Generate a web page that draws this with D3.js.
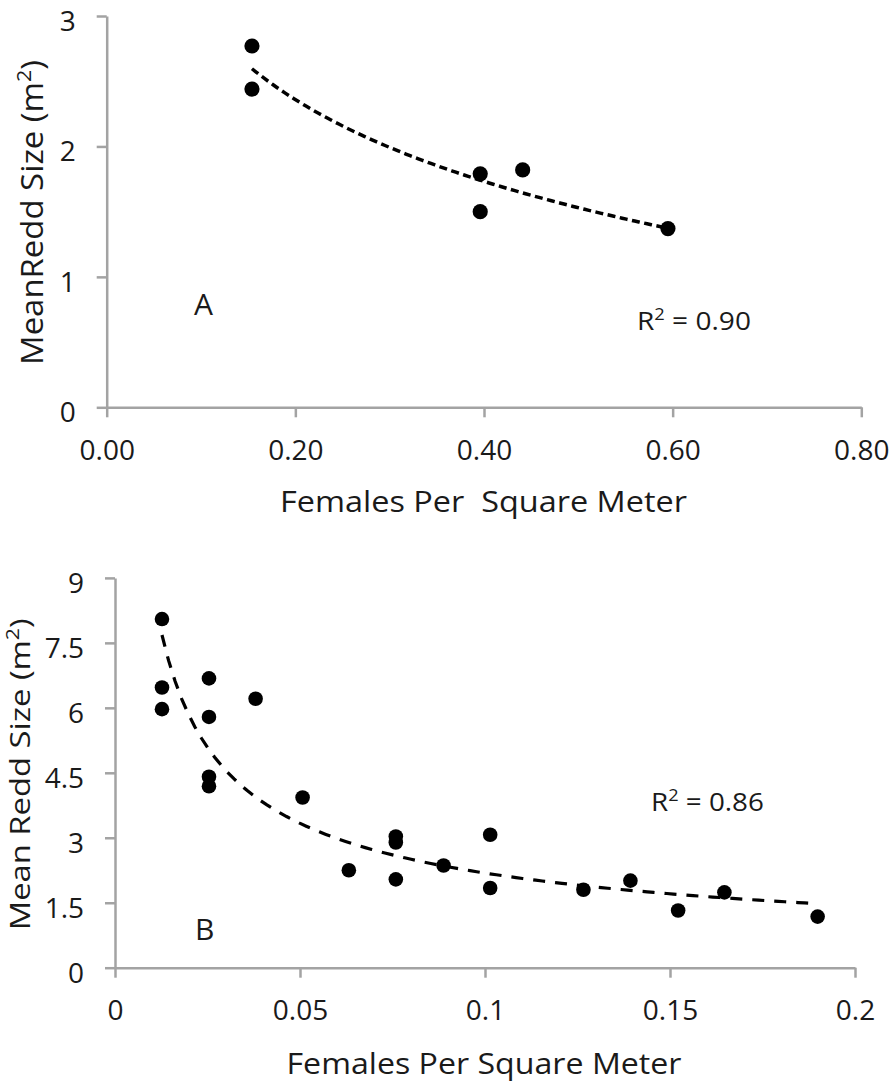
<!DOCTYPE html>
<html>
<head>
<meta charset="utf-8">
<script src="https://cdn.jsdelivr.net/npm/d3@7"></script>
<style>
  html, body { margin: 0; padding: 0; background: #fff; }
  svg { display: block; }
  text { font-family: "Open Sans", "Noto Sans", sans-serif; fill: #1a1a1a; }
</style>
</head>
<body>
<svg id="chart" width="892" height="1082"></svg>
<script>
// ---- Panel A data ----
const densityA = [0.154, 0.154, 0.396, 0.396, 0.441, 0.595];
const reddSizeA = [2.77, 2.44, 1.79, 1.50, 1.82, 1.37];
const xTicksA = [0, 0.2, 0.4, 0.6, 0.8];
const yTicksA = [0, 1, 2, 3];

// ---- Panel B data ----
const densityB = [0.0127, 0.0127, 0.0127, 0.0254, 0.0254, 0.0254, 0.0254, 0.038, 0.0507, 0.0632,
                  0.0759, 0.0759, 0.0759, 0.0888, 0.1014, 0.1014, 0.1266, 0.1393, 0.1522, 0.1647, 0.1899];
const reddSizeB = [8.05, 6.47, 5.97, 6.68, 5.79, 4.41, 4.19, 6.21, 3.93, 2.25,
                   3.03, 2.89, 2.04, 2.36, 3.07, 1.84, 1.80, 2.01, 1.32, 1.74, 1.18];
const xTicksB = [0, 0.05, 0.1, 0.15, 0.2];
const yTicksB = [0, 1.5, 3, 4.5, 6, 7.5, 9];

const svg = d3.select("#chart");
const axisColor = "#a3a3a3";

// least squares helpers
function linFit(xs, ys) {
  const n = xs.length;
  const mx = d3.mean(xs), my = d3.mean(ys);
  let sxy = 0, sxx = 0;
  for (let i = 0; i < n; i++) { sxy += (xs[i]-mx)*(ys[i]-my); sxx += (xs[i]-mx)**2; }
  const b = sxy / sxx;
  return { a: my - b*mx, b };
}
function logFit(xs, ys) { // y = a + b ln x
  const f = linFit(xs.map(Math.log), ys);
  return x => f.a + f.b * Math.log(x);
}
function powFit(xs, ys) { // y = A x^b
  const f = linFit(xs.map(Math.log), ys.map(Math.log));
  return x => Math.exp(f.a) * Math.pow(x, f.b);
}

function panel(cfg) {
  const g = svg.append("g");
  const x = d3.scaleLinear().domain(cfg.xDomain).range(cfg.xRange);
  const y = d3.scaleLinear().domain(cfg.yDomain).range(cfg.yRange);

  const yAxis = g.append("g")
    .attr("transform", `translate(${cfg.xRange[0]},0)`)
    .call(d3.axisLeft(y).tickValues(cfg.yTicks).tickFormat(cfg.yFmt).tickSize(10).tickSizeOuter(0).tickPadding(21));
  const xAxis = g.append("g")
    .attr("transform", `translate(0,${cfg.yRange[0]})`)
    .call(d3.axisBottom(x).tickValues(cfg.xTicks).tickFormat(cfg.xFmt).tickSize(10).tickSizeOuter(0));
  [yAxis, xAxis].forEach(ax => {
    ax.select(".domain").attr("stroke", axisColor).attr("stroke-width", 2.5);
    ax.selectAll(".tick line").attr("stroke", axisColor).attr("stroke-width", 2.5);
    ax.selectAll("text").attr("font-size", 28).attr("fill", "#1a1a1a")
      .style("font-family", '"Open Sans", sans-serif');
  });
  yAxis.selectAll("text").attr("dy", "0.52em");
  xAxis.selectAll("text").attr("dy", 0).attr("y", cfg.xLabelBase);

  // trend line
  const fit = cfg.fit(cfg.xs, cfg.ys);
  const x0 = d3.min(cfg.xs), x1 = d3.max(cfg.xs);
  const samples = d3.range(0, 101).map(i => x0 + (x1 - x0) * i / 100);
  g.append("path")
    .attr("d", d3.line().x(d => x(d)).y(d => y(fit(d)))(samples))
    .attr("fill", "none").attr("stroke", "#000")
    .attr("stroke-width", cfg.dashWidth)
    .attr("stroke-dasharray", cfg.dash);

  // points
  g.selectAll("circle.pt").data(cfg.xs.map((v, i) => [v, cfg.ys[i]]))
    .join("circle").attr("class", "pt")
    .attr("cx", d => x(d[0])).attr("cy", d => y(d[1]))
    .attr("r", cfg.r).attr("fill", "#000");

  // x title
  g.append("text")
    .attr("x", cfg.xTitle.x).attr("y", cfg.xTitle.y)
    .attr("font-size", 30)
    .attr("textLength", cfg.xTitle.len).attr("lengthAdjust", "spacingAndGlyphs")
    .style("white-space", "pre")
    .text(cfg.xTitle.text);

  // y title
  const fs = cfg.yTitle.fs;
  const yt = g.append("text")
    .attr("transform", `translate(${cfg.yTitle.x},${cfg.yTitle.y}) rotate(-90)`)
    .attr("text-anchor", "middle")
    .attr("font-size", fs);
  yt.append("tspan").text(cfg.yTitle.text + " (m");
  yt.append("tspan").attr("font-size", fs * 0.65).attr("dy", -fs * 0.39).text("2");
  yt.append("tspan").attr("dy", fs * 0.39).text(")");
  const len = yt.node().getComputedTextLength();
  yt.attr("transform", `translate(${cfg.yTitle.x},${cfg.yTitle.y}) rotate(-90) scale(${cfg.yTitle.len/len},1)`);

  // panel letter
  g.append("text").attr("x", cfg.letter.x).attr("y", cfg.letter.y)
    .attr("font-size", 30).text(cfg.letter.text);

  // R^2
  const rt = g.append("text").attr("x", cfg.r2.x).attr("y", cfg.r2.y).attr("font-size", 26);
  rt.append("tspan").text("R");
  rt.append("tspan").attr("font-size", 17).attr("dy", -10).text("2");
  rt.append("tspan").attr("dy", 10).text(" = " + cfg.r2.text);
  const rl = rt.node().getComputedTextLength();
  rt.attr("transform", `translate(${cfg.r2.x},0) scale(${cfg.r2.len/rl},1) translate(${-cfg.r2.x},0)`);
}

panel({
  xs: densityA, ys: reddSizeA,
  xDomain: [0, 0.8], xRange: [106.7, 861.3],
  yDomain: [0, 3], yRange: [407.3, 16],
  xTicks: xTicksA, yTicks: yTicksA,
  xFmt: d3.format(".2f"), yFmt: d => String(d),
  xLabelBase: 53,
  fit: logFit, dash: "8,4.5", dashWidth: 3.5, r: 7.6,
  xTitle: { text: "Females Per  Square Meter", x: 280, y: 511.5, len: 407 },
  yTitle: { text: "MeanRedd Size", x: 43, y: 212.5, len: 305, fs: 31 },
  letter: { text: "A", x: 194, y: 315 },
  r2: { text: "0.90", x: 637, y: 330, len: 114 }
});

panel({
  xs: densityB, ys: reddSizeB,
  xDomain: [0, 0.2], xRange: [115, 855],
  yDomain: [0, 9], yRange: [967.7, 577.9],
  xTicks: xTicksB, yTicks: yTicksB,
  xFmt: d => String(d), yFmt: d => String(d),
  xLabelBase: 52.3,
  fit: powFit, dash: "12,10", dashWidth: 3.2, r: 7.3,
  xTitle: { text: "Females Per Square Meter", x: 286.5, y: 1074, len: 395 },
  yTitle: { text: "Mean Redd Size", x: 30, y: 774.3, len: 312, fs: 28 },
  letter: { text: "B", x: 195, y: 940 },
  r2: { text: "0.86", x: 651, y: 811, len: 113 }
});
</script>
</body>
</html>
